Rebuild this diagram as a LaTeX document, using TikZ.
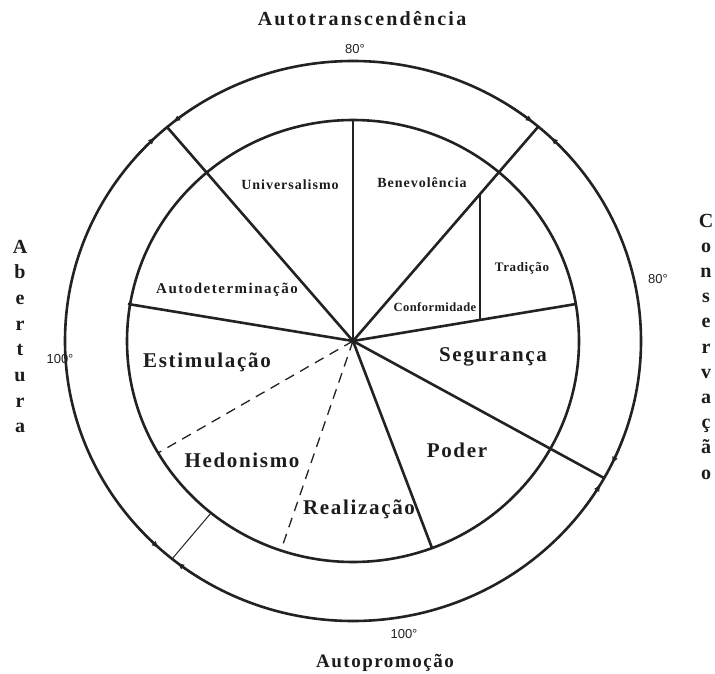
\documentclass[tikz,border=0pt]{standalone}
\usepackage{fontspec}
\setmainfont{Liberation Serif}
\newfontfamily\fbig[LetterSpace=8]{Liberation Serif}
\newfontfamily\fmed[LetterSpace=7]{Liberation Serif}
\newfontfamily\fauto[LetterSpace=10]{Liberation Serif}
\newfontfamily\fsmall[LetterSpace=5]{Liberation Serif}
\newfontfamily\fconf[LetterSpace=3.5]{Liberation Serif}
\newfontfamily\ftitleA[LetterSpace=11]{Liberation Serif}
\newfontfamily\ftitleB[LetterSpace=8]{Liberation Serif}
\newfontfamily\fdeg{Liberation Sans}
\usetikzlibrary{arrows.meta}
\definecolor{ink}{HTML}{222222}
\definecolor{txt}{HTML}{1C1C1C}
\tikzset{
  ring/.style={draw=ink, line width=2.6pt},
  spoke/.style={draw=ink, line width=2.6pt},
  thinspoke/.style={draw=ink, line width=1.3pt},
  dashspoke/.style={draw=ink, line width=1.3pt, dash pattern=on 10pt off 7pt},
  biglab/.style={text=txt, font=\fbig\bfseries\fontsize{21}{24}\selectfont},
  medlab/.style={text=txt, font=\fmed\bfseries\fontsize{14}{16}\selectfont},
  autolab/.style={text=txt, font=\fauto\bfseries\fontsize{15}{17}\selectfont},
  smalllab/.style={text=txt, font=\fsmall\bfseries\fontsize{13}{15}\selectfont},
  conflab/.style={text=txt, font=\fconf\bfseries\fontsize{12.5}{15}\selectfont},
  titleA/.style={text=txt, font=\ftitleA\bfseries\fontsize{20}{22}\selectfont},
  titleB/.style={text=txt, font=\ftitleB\bfseries\fontsize{19}{21}\selectfont},
  stack/.style={text=txt, font=\bfseries\fontsize{20}{22}\selectfont, anchor=base, inner sep=0pt},
  deg/.style={text=ink, font=\fdeg\fontsize{13}{15}\selectfont},
  tick/.style={draw=ink, line width=2pt, -{Latex[length=8pt,width=6pt]}}
}
\begin{document}
\begin{tikzpicture}[x=1pt, y=-1pt]
\useasboundingbox (0,0) rectangle (715,674);
\fill[white] (0,0) rectangle (715,674);
\coordinate (C) at (353,341);

% rings
\draw[ring] (C) ellipse [x radius=226, y radius=221];
\draw[ring] (C) ellipse [x radius=288, y radius=280];

% solid spokes
\coordinate (pTop) at (353,120);
\coordinate (pUniO) at (167,127);
\coordinate (pAut) at (128,304);
\coordinate (pBenO) at (538,127);
\coordinate (pSeg) at (576,304);
\coordinate (pPodO) at (604,478);
\coordinate (pRea) at (432,548);
\draw[spoke] (C) -- (pTop);
\draw[spoke] (C) -- (pUniO);
\draw[spoke] (C) -- (pAut);
\draw[spoke] (C) -- (pBenO);
\draw[spoke] (C) -- (pSeg);
\draw[spoke] (C) -- (pPodO);
\draw[spoke] (C) -- (pRea);

% Tradicao / Conformidade divider
\coordinate (tA) at (480,194);
\coordinate (tB) at (480,320);
\draw[thinspoke] (tA) -- (tB);

% dashed spokes
\coordinate (pHed) at (281,550);
\coordinate (pEst) at (158,453);
\draw[dashspoke] (C) -- (pHed);
\draw[dashspoke] (C) -- (pEst);

% short link between rings
\coordinate (lA) at (211,513);
\coordinate (lB) at (172,559);
\draw[draw=ink, line width=1pt] (lA) -- (lB);

% centre blob
\fill[ink] (C) circle (3pt);

% arrow ticks on the outer ring (parametric angles, y flipped)
\foreach \a in {-131,-49,28.4,130} {
  \draw[tick] (C) ++(\a-8:288 and 280) arc[start angle=\a-8, end angle=\a-2.2, x radius=288, y radius=280];
  \draw[tick] (C) ++(\a+8:288 and 280) arc[start angle=\a+8, end angle=\a+2.2, x radius=288, y radius=280];
}

% sector labels
\node[medlab] (uni) at (290,185) {Universalismo};
\node[medlab] (ben) at (422,183) {Benevolência};
\node[autolab] (aut) at (227,290) {Autodeterminação};
\node[smalllab] (tra) at (522,268) {Tradição};
\node[conflab] (con) at (435,307) {Conformidade};
\node[biglab] (est) at (207,362) {Estimulação};
\node[biglab] (hed) at (242,460) {Hedonismo};
\node[biglab] (seg) at (493,357) {Segurança};
\node[biglab] (pod) at (457,450) {Poder};
\node[biglab] (rea) at (359,509) {Realização};

% titles
\node[titleA] (tt) at (362,19) {Autotranscendência};
\node[titleB] (tp) at (385,663) {Autopromoção};
\foreach \l [count=\i from 0] in {A,b,e,r,t,u,r,a}
  \node[stack] at (20,253+\i*25.7) {\l};
\foreach \l [count=\i from 0] in {C,o,n,s,e,r,v,a,ç,ã,o}
  \node[stack] at (706,227+\i*25.2) {\l};

% degree labels
\node[deg] (d1) at (355,49) {80°};
\node[deg] (d2) at (658,279) {80°};
\node[deg] (d3) at (60,359) {100°};
\node[deg] (d4) at (404,634) {100°};
\end{tikzpicture}
\end{document}
